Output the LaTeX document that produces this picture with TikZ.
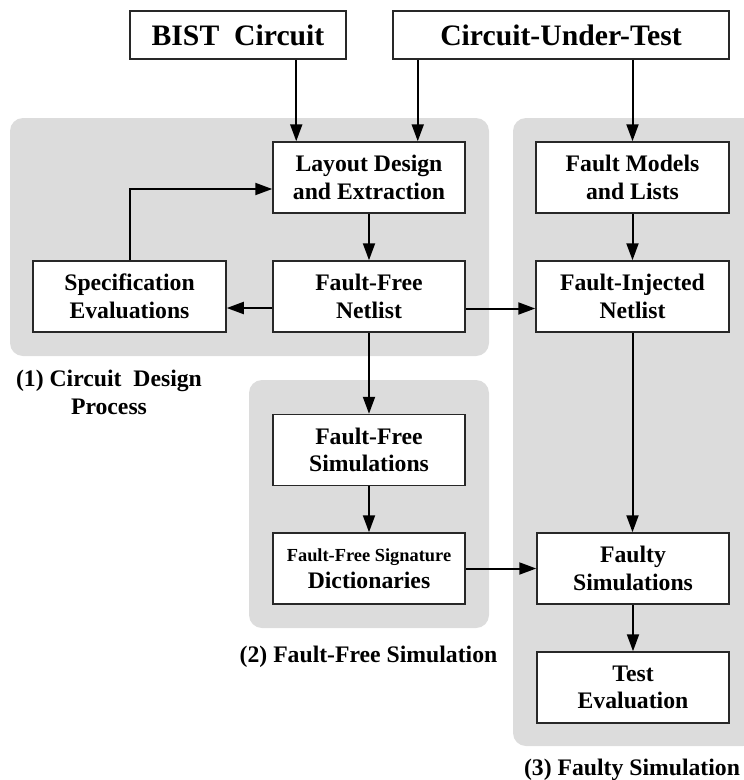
\documentclass[tikz,border=0pt]{standalone}
\usepackage{fontspec}
\setmainfont{Liberation Serif}
\usetikzlibrary{arrows.meta,calc}
\definecolor{panel}{RGB}{220,220,220}
\definecolor{edge}{RGB}{40,40,40}
\begin{document}
\begin{tikzpicture}[x=1pt,y=-1pt,
  box/.style={draw=edge,line width=1.5pt,fill=white,minimum width=192pt,minimum height=71pt,
    inner sep=0pt,align=center,font=\fontsize{23.7}{27.5}\selectfont\bfseries},
  topbox/.style={box,minimum height=48pt,font=\fontsize{29.7}{34}\selectfont\bfseries},
  panelbox/.style={fill=panel,rounded corners=13pt},
  caption/.style={align=center,inner sep=0pt,font=\fontsize{23.7}{27.5}\selectfont\bfseries},
  arr/.style={line width=2pt,-{Triangle[length=17pt,width=12pt]}}]
\useasboundingbox (0,0) rectangle (744,780);

% shaded stage panels
\fill[panelbox] (10,118) rectangle (489,356);
\fill[panelbox] (249,380) rectangle (489,628);
\fill[panelbox] (513,118) rectangle (756,746);

% inputs
\node[topbox,minimum width=216pt] (bist) at (238,35) {BIST~~Circuit};
\node[topbox,minimum width=336pt] (cut) at (561,35) {Circuit-Under-Test};

% stage 1: circuit design
\node[box] (layout) at (369,177.5) {Layout Design\\and Extraction};
\node[box,minimum width=193pt] (spec) at (129.5,296.5) {Specification\\Evaluations};
\node[box] (ffnet) at (369,296.5) {Fault-Free\\Netlist};

% stage 2: fault-free simulation
\node[box] (ffsim) at (369,450) {Fault-Free\\Simulations};
\node[box] (dict) at (369,568.5) {{\fontsize{18.4}{21}\selectfont Fault-Free Signature}\\[-1pt]Dictionaries};

% stage 3: faulty simulation
\node[box,minimum width=193pt] (models) at (632.5,177.5) {Fault Models\\and Lists};
\node[box,minimum width=193pt] (injected) at (632.5,296.5) {Fault-Injected\\Netlist};
\node[box] (faulty) at (633,568.5) {Faulty\\Simulations};
\node[box] (test) at (633,687.5) {Test\\Evaluation};

% stage captions (base = baseline of the last line)
\node[caption,anchor=base] (cap1) at (109,414) {(1) Circuit~~Design\\Process};
\node[caption,anchor=base] (cap2) at (368.5,662) {(2) Fault-Free Simulation};
\node[caption,anchor=base] (cap3) at (632,775) {(3) Faulty Simulation};

% connectors
\coordinate (inA) at ([xshift=24pt]layout.north west);
\coordinate (inB) at ([xshift=-48pt]layout.north east);
\draw[arr] (bist.south -| inA) -- (inA);
\draw[arr] (cut.south -| inB) -- (inB);
\draw[arr] (cut.south -| models.north) -- (models.north);
\draw[arr] (layout.south) -- (ffnet.north);
\coordinate (fbin) at ([yshift=-11.5pt]layout.west);
\draw[arr] (spec.north) |- (fbin);
\coordinate (ffw) at ([yshift=-11.5pt]ffnet.west);
\coordinate (ffe) at ([yshift=-12pt]ffnet.east);
\draw[arr] (ffw) -- (ffw -| spec.east);
\draw[arr] (ffe) -- (ffe -| injected.west);
\draw[arr] (models.south) -- (models.south |- injected.north);
\draw[arr] (ffnet.south) -- (ffsim.north);
\draw[arr] (ffsim.south) -- (dict.north);
\draw[arr] (dict.east) -- (faulty.west);
\draw[arr] (injected.south) -- (injected.south |- faulty.north);
\draw[arr] (faulty.south) -- (test.north);
\end{tikzpicture}
\end{document}
